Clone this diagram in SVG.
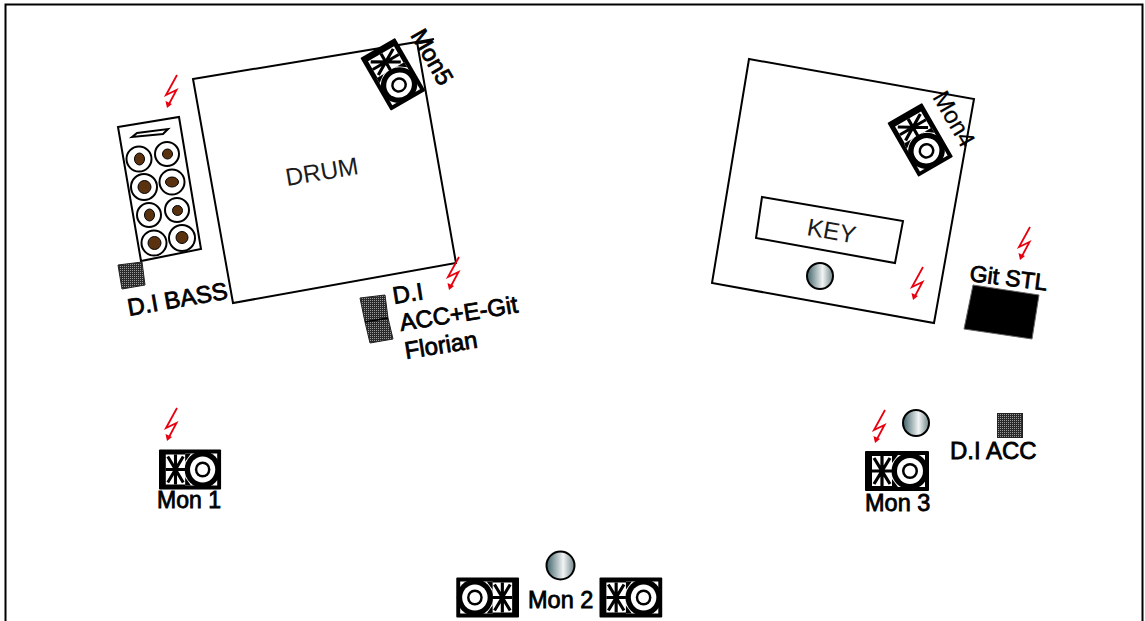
<svg xmlns="http://www.w3.org/2000/svg" xmlns:xlink="http://www.w3.org/1999/xlink" width="1145" height="621" viewBox="0 0 1145 621">
<style>
.ln{fill:#fff;stroke:#000;stroke-width:2}
.t{font-family:"Liberation Sans",Arial,sans-serif;font-size:24px;fill:#000;stroke:#000;stroke-width:.8}
.th{font-family:"Liberation Sans",Arial,sans-serif;font-size:24.500px;fill:#1c1c1c}
.spk{fill:#fff;stroke:#000;stroke-width:2}
.cone{fill:#5a3210;stroke:#000;stroke-width:1}
.mic{fill:url(#micg);stroke:#000;stroke-width:2}
.di{fill:url(#dot);stroke:#222;stroke-width:1}
.bolt{fill:none;stroke:#e8000f;stroke-width:1.800}
.wire{stroke:#000;stroke-width:3.200;fill:none}
</style>
<defs>
<linearGradient id="micg"><stop offset="0" stop-color="#3f6268"/><stop offset=".6" stop-color="#f2f4f4"/><stop offset="1" stop-color="#6f8588"/></linearGradient>
<pattern id="dot" width="2" height="2" patternUnits="userSpaceOnUse"><rect width="2" height="2" fill="#2a2a2a"/><rect width="1" height="1" fill="#9a9a9a"/></pattern>
<g id="bolt"><path class="bolt" d="M12,0L1,20L11.500,15L3.500,30"/><path d="M0.500,26L7,29L2,33Z" fill="#e8000f"/></g>
<g id="mon">
<rect width="64" height="40" rx="1" fill="#000"/>
<rect x="7" y="5" width="20" height="30" fill="#fff"/>
<path class="wire" d="M9,7L25,33M25,7L9,33M17,5V35M7,20H27"/>
<rect x="27" y="4" width="33" height="32" fill="#fff"/>
<circle cx="45" cy="20" r="18.500" fill="#000"/>
<path d="M27,4L33,4L27,12ZM27,36L33,36L27,28Z" fill="#000"/>
<circle cx="45" cy="20" r="13" fill="#fff"/>
<circle cx="45" cy="20" r="8" fill="#000"/>
<circle cx="45" cy="20" r="5.500" fill="#fff"/>
</g>
</defs>
<rect id="frame" x="5.500" y="4.500" width="1137" height="630" fill="#fff" stroke="#000" stroke-width="2"/>
<g id="connectors"/>
<g id="drum">
<path class="ln" d="M193,79L417,42L456,263L233,303Z"/>
<path class="ln" d="M417,42L434,39" fill="none"/>
<text class="th" transform="translate(287,186) rotate(-9.500)">DRUM</text>
</g>
<g id="mon5">
<use xlink:href="#mon" href="#mon" transform="translate(395,38) rotate(60) scale(.95,1)"/>
<text class="t" transform="translate(410,35) rotate(60)">Mon5</text>
</g>
<g id="bass-rig">
<path class="ln" d="M118,127L179,117L201,249L141,261Z"/>
<path class="ln" stroke-width="1.500" d="M132,137L137,133L168,129L163,134Z"/>
<circle class="spk" cx="139" cy="159" r="12.500"/><ellipse class="cone" cx="139.500" cy="159" rx="5" ry="6"/>
<circle class="spk" cx="167" cy="154" r="12"/><circle class="cone" cx="167.500" cy="154" r="5"/>
<circle class="spk" cx="144" cy="187" r="13"/><circle class="cone" cx="144.500" cy="187" r="6.500"/>
<circle class="spk" cx="172" cy="182" r="12.500"/><ellipse class="cone" cx="172" cy="182" rx="6.500" ry="5"/>
<circle class="spk" cx="149" cy="215" r="12"/><ellipse class="cone" cx="149.500" cy="215" rx="5" ry="6"/>
<circle class="spk" cx="177" cy="210" r="12"/><circle class="cone" cx="177.500" cy="210.500" r="5"/>
<circle class="spk" cx="154" cy="243" r="12.500"/><circle class="cone" cx="154.500" cy="243" r="6.500"/>
<circle class="spk" cx="182" cy="238" r="13"/><circle class="cone" cx="182" cy="237.500" r="6"/>
</g>
<g id="di-bass">
<path class="di" d="M118,265L142,262L145,285L122,289Z"/>
<text class="t" transform="translate(129,316) rotate(-10)">D.I BASS</text>
</g>
<g id="di-acc-egit">
<path class="di" d="M360,298L385,295L388,318L365,322Z"/>
<path class="di" d="M365,322L388,318L393,339L370,343Z"/>
<path d="M365,322L388,318" stroke="#000" stroke-width="1.500" fill="none"/>
<text class="t" transform="translate(394,304) rotate(-9)">D.I</text>
<text class="t" transform="translate(401,331) rotate(-9)">ACC+E-Git</text>
<text class="t" transform="translate(406,359) rotate(-9)">Florian</text>
</g>
<g id="key-stage">
<path class="ln" d="M749,59L974,99L934,323L712,283Z"/>
<path class="ln" d="M762,197L903,221L895,263L756,238Z"/>
<text class="th" transform="translate(806,235) rotate(10)">KEY</text>
<circle class="mic" cx="820" cy="276" r="13"/>
</g>
<g id="mon4">
<use xlink:href="#mon" href="#mon" transform="translate(922,103) rotate(60) scale(.97,1)"/>
<text class="t" style="stroke-width:.25" transform="translate(932,97) rotate(60)">Mon4</text>
</g>
<g id="git-stl">
<path d="M973,285L1039,295L1032,339L964,329Z" fill="#000" stroke="#666" stroke-width="1"/>
<text class="t" transform="translate(969,281) rotate(7)" style="font-size:23px">Git STL</text>
</g>
<g id="mon1">
<use xlink:href="#mon" href="#mon" transform="translate(159,449.500) scale(.97,1)"/>
<text class="t" x="157" y="508" style="font-size:23px">Mon 1</text>
</g>
<g id="mon3">
<use xlink:href="#mon" href="#mon" transform="translate(865,451)"/>
<text class="t" x="865" y="511" style="font-size:23.500px">Mon 3</text>
<circle class="mic" cx="916" cy="423" r="13"/>
</g>
<g id="di-acc">
<rect class="di" x="997.500" y="413.500" width="25" height="24"/>
<text class="t" x="950" y="459">D.I ACC</text>
</g>
<g id="mon2">
<use xlink:href="#mon" href="#mon" transform="translate(519,577.500) scale(-.98,1)"/>
<use xlink:href="#mon" href="#mon" transform="translate(599.500,577.500) scale(.98,1)"/>
<text class="t" x="528" y="608" style="font-size:23.500px">Mon 2</text>
<circle class="mic" cx="560.500" cy="565.500" r="14"/>
</g>
<g id="power">
<use xlink:href="#bolt" href="#bolt" x="165" y="75"/>
<use xlink:href="#bolt" href="#bolt" x="447" y="257"/>
<use xlink:href="#bolt" href="#bolt" x="911" y="267"/>
<use xlink:href="#bolt" href="#bolt" x="1018" y="227"/>
<use xlink:href="#bolt" href="#bolt" x="165" y="408"/>
<use xlink:href="#bolt" href="#bolt" x="873" y="410"/>
</g>
</svg>
